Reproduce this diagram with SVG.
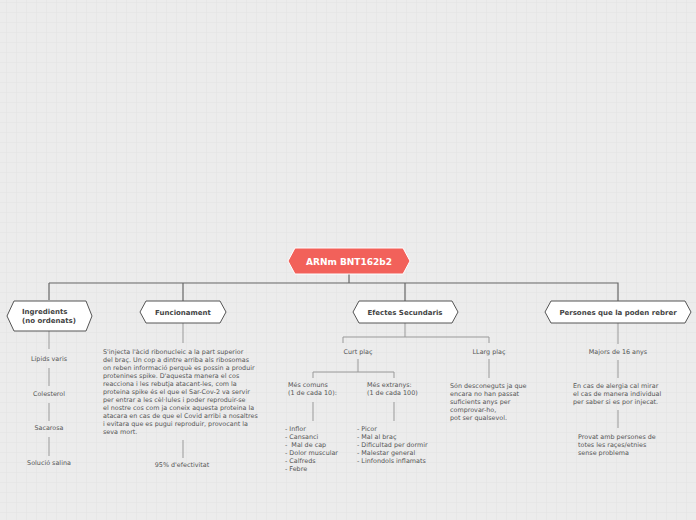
<svg xmlns="http://www.w3.org/2000/svg" width="696" height="520" viewBox="0 0 696 520">
<defs>
<pattern id="grid" x="6" y="2" width="10" height="10" patternUnits="userSpaceOnUse">
<path d="M0 0H10M0 0V10" fill="none" stroke="#e2e2e2" stroke-width="1"/>
</pattern>
</defs>
<style>
.t{font-family:"DejaVu Sans",Verdana,sans-serif;font-size:6.4px;fill:#555}
.n{font-family:"DejaVu Sans",Verdana,sans-serif;font-size:7px;font-weight:bold;fill:#444}
.box{fill:#fff;stroke:#555;stroke-width:1}
.main{fill:none;stroke:#666;stroke-width:1.2}
.sub{fill:none;stroke:#999;stroke-width:1}
.c{text-anchor:middle}
</style>
<rect width="696" height="520" fill="#ececec"/>
<rect width="696" height="520" fill="url(#grid)"/>

<g id="connectors">
<path class="main" d="M349 274V283M49 283H405M49 283V300M183 283V301"/>
<path class="main" stroke="#888" d="M405 283H618V301M405 283V301"/>
<path class="sub" d="M49 331V349M49 368V386M49 403V421M49 437V456"/>
<path class="sub" d="M183 323V343M183 440V458"/>
<path class="sub" d="M405 323V337M343 343V337H489V343"/>
<path class="sub" d="M358 359V372M313 378V372H394V378"/>
<path class="sub" d="M313 402V421M394 402V421M489 359V378"/>
<path class="sub" d="M618 323V344M618 360V378M618 410V428"/>
</g>

<g id="root">
<polygon points="288,261 295,248 403,248 410,261 403,274 295,274" fill="#f2615a" stroke="#fff" stroke-width="1"/>
<text x="349" y="264.5" class="c" style="font-family:'DejaVu Sans',Verdana,sans-serif;font-size:9px;font-weight:bold;fill:#fff">ARNm BNT162b2</text>
</g>

<g id="ingredients">
<polygon class="box" points="7,316 14,301 86,301 92,316 86,331 14,331"/>
<text x="22" y="314" class="n">Ingredients</text>
<text x="22" y="322.5" class="n">(no ordenats)</text>
</g>
<g id="funcionament">
<polygon class="box" points="140,312 146,301 220,301 226,312 220,323 146,323"/>
<text x="183" y="314.5" class="n c">Funcionament</text>
</g>
<g id="efectes">
<polygon class="box" points="353,312 359,301 452,301 458,312 452,323 359,323"/>
<text x="405" y="314.5" class="n c">Efectes Secundaris</text>
</g>
<g id="persones">
<polygon class="box" points="545,312 551,301 685,301 691,312 685,323 551,323"/>
<text x="618" y="314.5" class="n c">Persones que la poden rebrer</text>
</g>

<g id="lipids"><text x="49" y="361" class="t c">Lípids varis</text></g>
<g id="colesterol"><text x="49" y="396" class="t c">Colesterol</text></g>
<g id="sacarosa"><text x="49" y="430" class="t c">Sacarosa</text></g>
<g id="solucio"><text x="49" y="465" class="t c">Solució salina</text></g>

<g id="funcionament-text">
<text class="t" x="103" y="354">S'injecta l'àcid ribonucleic a la part superior</text>
<text class="t" x="103" y="362">del braç. Un cop a dintre arriba als ribosomas</text>
<text class="t" x="103" y="370">on reben informació perquè es possin a produir</text>
<text class="t" x="103" y="378">protenines spike. D'aquesta manera el cos</text>
<text class="t" x="103" y="386">reacciona i les rebutja atacant-les, com la</text>
<text class="t" x="103" y="394">proteina spike és el que el Sar-Cov-2 va servir</text>
<text class="t" x="103" y="402">per entrar a les cèl·lules i poder reproduir-se</text>
<text class="t" x="103" y="410">el nostre cos com ja coneix aquesta proteina la</text>
<text class="t" x="103" y="418">atacara en cas de que el Covid arribi a nosaltres</text>
<text class="t" x="103" y="426">i evitara que es pugui reproduir, provocant la</text>
<text class="t" x="103" y="434">seva mort.</text>
</g>
<g id="efectivitat"><text x="182" y="467" class="t c">95% d'efectivitat</text></g>

<g id="curt"><text x="358" y="354" class="t c">Curt plaç</text></g>
<g id="llarg"><text x="489" y="354" class="t c">LLarg plaç</text></g>
<g id="comuns">
<text class="t" x="288" y="387">Més comuns</text>
<text class="t" x="288" y="395">(1 de cada 10):</text>
</g>
<g id="extranys">
<text class="t" x="367" y="387">Més extranys:</text>
<text class="t" x="367" y="395">(1 de cada 100)</text>
</g>
<g id="comuns-list">
<text class="t" x="285" y="431">- Inflor</text>
<text class="t" x="285" y="439">- Cansanci</text>
<text class="t" x="285" y="447" xml:space="preserve">-  Mal de cap</text>
<text class="t" x="285" y="455">- Dolor muscular</text>
<text class="t" x="285" y="463">- Calfreds</text>
<text class="t" x="285" y="471">- Febre</text>
</g>
<g id="extranys-list">
<text class="t" x="357" y="431">- Picor</text>
<text class="t" x="357" y="439">- Mal al braç</text>
<text class="t" x="357" y="447">- Dificultad per dormir</text>
<text class="t" x="357" y="455">- Malestar general</text>
<text class="t" x="357" y="463">- Linfondols inflamats</text>
</g>
<g id="llarg-text">
<text class="t" x="450" y="388">Són desconeguts ja que</text>
<text class="t" x="450" y="396">encara no han passat</text>
<text class="t" x="450" y="404">suficients anys per</text>
<text class="t" x="450" y="412">comprovar-ho,</text>
<text class="t" x="450" y="420">pot ser qualsevol.</text>
</g>

<g id="majors"><text x="618" y="354" class="t c">Majors de 16 anys</text></g>
<g id="alergia">
<text class="t" x="573" y="388">En cas de alergia cal mirar</text>
<text class="t" x="573" y="396">el cas de manera individual</text>
<text class="t" x="573" y="404">per saber si es por injecat.</text>
</g>
<g id="provat">
<text class="t" x="578" y="439">Provat amb persones de</text>
<text class="t" x="578" y="447">totes les raçes/etnies</text>
<text class="t" x="578" y="455">sense problema</text>
</g>
</svg>
